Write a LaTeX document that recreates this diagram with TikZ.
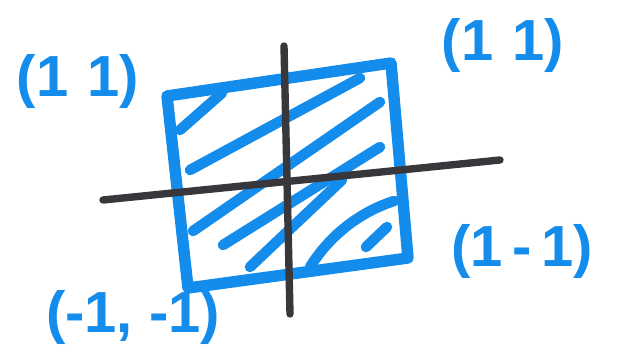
\documentclass[tikz,border=0pt]{standalone}
\usepackage{fontspec}
\setmainfont{Liberation Sans}
\definecolor{marker}{RGB}{20,140,235}
\definecolor{pen}{RGB}{55,55,60}

\begin{document}
\begin{tikzpicture}[x=0.02cm, y=-0.02cm,
    edge/.style={draw=marker, line width=6.5pt, line cap=round, line join=round},
    hatch/.style={draw=marker, line width=6pt, line cap=round},
    axis/.style={draw=pen, line width=4.2pt, line cap=round},
    corner/.style={text=marker, font=\fontsize{33}{33}\selectfont\bfseries, inner sep=0pt}]
    \useasboundingbox (0,0) rectangle (622,355);
    % square
    \coordinate (nw) at (167,96);
    \coordinate (ne) at (391,63);
    \coordinate (se) at (408,258);
    \coordinate (sw) at (188,288);
    \draw[edge] (nw) -- (ne) -- (se) -- (sw) -- cycle;
    % hatching
    \draw[hatch] (180,130) -- (222,93);
    \draw[hatch] (190,170) -- (360,78);
    \draw[hatch] (193,231) -- (380,102);
    \draw[hatch] (223,245) -- (380,147);
    \draw[hatch] (250,267) -- (342,180);
    \draw[hatch] (310,267) .. controls (330,235) and (360,212) .. (394,201);
    \draw[hatch] (366,247) -- (387,227);
    % axes
    \coordinate (xl) at (103,200);
    \coordinate (xr) at (500,160);
    \coordinate (yt) at (284,46);
    \coordinate (yb) at (290,314);
    \draw[axis] (xl) -- (xr);
    \draw[axis] (yt) -- (yb);
    % corner labels
    \node[corner] (tl) at (78,82) {(1\,\,1)};
    \node[corner] (tr) at (503,46) {(1\,\,1)};
    \node[corner] (br) at (522,252) {(1\,-\,1)};
    \node[corner] (bl) at (133,318) {(-1, -1)};
\end{tikzpicture}
\end{document}
